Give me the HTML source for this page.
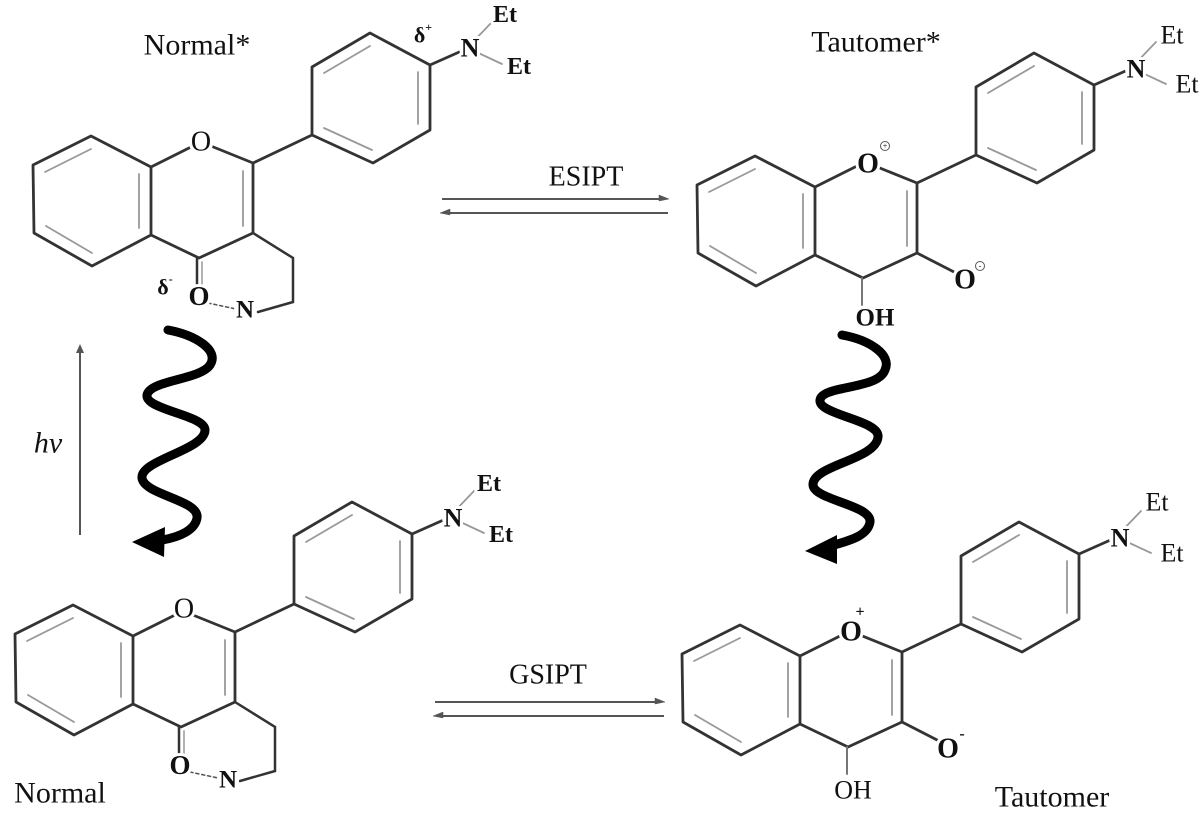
<!DOCTYPE html>
<html><head><meta charset="utf-8"><style>
html,body{margin:0;padding:0;background:#fff;}
svg{display:block;}
text{font-family:"Liberation Serif",serif;fill:#111;}
.lbl{paint-order:stroke;stroke:#fff;stroke-width:6px;stroke-linejoin:round;text-anchor:middle;dominant-baseline:central;}
.b{font-weight:bold;}
.m{fill:#fff;stroke:none;}
</style></head><body>
<svg width="1200" height="817" viewBox="0 0 1200 817" xmlns="http://www.w3.org/2000/svg">
<defs>
<g id="core" fill="none" stroke-linejoin="round" stroke-linecap="round">
  <polygon points="91,136 33,165 34,233 92,266 151,235 151,167" stroke="#333" stroke-width="2.8"/>
  <g stroke="#999" stroke-width="1.8">
    <line x1="91" y1="149" x2="45" y2="172"/>
    <line x1="46" y1="226" x2="92" y2="253"/>
    <line x1="139" y1="174" x2="139" y2="228"/>
    <line x1="243" y1="171" x2="243" y2="226"/>
    <line x1="324" y1="73" x2="370" y2="46"/>
    <line x1="418" y1="72" x2="418" y2="124"/>
    <line x1="372" y1="150" x2="324" y2="128"/>
  </g>
  <polyline points="151,167 201,142 253,163 253,233 199,258 151,235" stroke="#333" stroke-width="2.8"/>
  <line x1="253" y1="163" x2="312" y2="135" stroke="#333" stroke-width="2.8"/>
  <polygon points="312,135 312,67 370,33 430,65 430,130 373,163" stroke="#333" stroke-width="2.8"/>
  <line x1="430" y1="65" x2="466" y2="49" stroke="#333" stroke-width="2.8"/>
  <line x1="470" y1="45" x2="492" y2="22" stroke="#999" stroke-width="1.8"/>
  <line x1="472" y1="50" x2="502" y2="64" stroke="#999" stroke-width="1.8"/>
</g>
<g id="normal" fill="none" stroke-linecap="round">
  <line x1="197" y1="258" x2="197" y2="290" stroke="#333" stroke-width="2.5"/>
  <line x1="202" y1="262" x2="202" y2="290" stroke="#aaa" stroke-width="1.8"/>
  <polyline points="253,233 293,258 293,302 258,312" stroke="#333" stroke-width="2.5"/>
  <line x1="208" y1="303" x2="236" y2="309" stroke="#555" stroke-width="1.6" stroke-dasharray="3,3"/>
</g>
<g id="taut" fill="none" stroke-linecap="round">
  <line x1="253" y1="233" x2="292" y2="253" stroke="#333" stroke-width="2.8"/>
  <line x1="198" y1="258" x2="198" y2="285" stroke="#777" stroke-width="2"/>
</g>
</defs>

<!-- Normal* top-left -->
<use href="#core"/>
<use href="#normal"/>
<circle class="m" cx="201" cy="143" r="12"/>
<circle class="m" cx="199" cy="297" r="12"/>
<circle class="m" cx="245" cy="310" r="11"/>
<circle class="m" cx="470" cy="48" r="11"/>
<text x="197" y="45" class="lbl" font-size="30">Normal*</text>
<text x="201" y="142" class="lbl" font-size="28">O</text>
<text x="199" y="296" class="lbl b" font-size="27">O</text>
<text x="245" y="310" class="lbl b" font-size="25">N</text>
<text x="470" y="48" class="lbl b" font-size="26">N</text>
<text x="505" y="15" class="lbl b" font-size="24">Et</text>
<text x="519" y="67" class="lbl b" font-size="24">Et</text>
<text x="423" y="35" class="lbl b" font-size="22">δ<tspan font-size="12" dy="-8">+</tspan></text>
<text x="165" y="287" class="lbl b" font-size="22">δ<tspan font-size="12" dy="-8">-</tspan></text>

<!-- Normal bottom-left -->
<g transform="translate(-18,469)">
<use href="#core"/>
<use href="#normal"/>
</g>
<circle class="m" cx="184" cy="609" r="12"/>
<circle class="m" cx="180" cy="766" r="12"/>
<circle class="m" cx="228" cy="780" r="11"/>
<circle class="m" cx="453" cy="518" r="11"/>
<text x="184" y="609" class="lbl" font-size="28">O</text>
<text x="180" y="765" class="lbl b" font-size="27">O</text>
<text x="228" y="780" class="lbl b" font-size="25">N</text>
<text x="453" y="518" class="lbl b" font-size="26">N</text>
<text x="489" y="484" class="lbl b" font-size="24">Et</text>
<text x="501" y="535" class="lbl b" font-size="24">Et</text>
<text x="60" y="793" class="lbl" font-size="30">Normal</text>

<!-- Tautomer* top-right -->
<g transform="translate(664,20)">
<use href="#core"/>
<use href="#taut"/>
</g>
<circle class="m" cx="868" cy="164" r="12"/>
<circle class="m" cx="965" cy="280" r="12"/>
<circle class="m" cx="1136" cy="69" r="11"/>
<text x="876" y="42" class="lbl" font-size="30">Tautomer*</text>
<text x="868" y="164" class="lbl b" font-size="28">O</text>
<circle cx="885" cy="146" r="4.5" fill="#fff" stroke="#555" stroke-width="1"/>
<text x="885" y="146" font-size="8" text-anchor="middle" dominant-baseline="central">+</text>
<text x="965" y="280" class="lbl b" font-size="28">O</text>
<circle cx="980" cy="266" r="4.5" fill="#fff" stroke="#555" stroke-width="1"/>
<text x="980" y="266" font-size="8" text-anchor="middle" dominant-baseline="central">-</text>
<text x="875" y="318" class="lbl b" font-size="25">OH</text>
<text x="1136" y="69" class="lbl b" font-size="26">N</text>
<text x="1172" y="35" class="lbl" font-size="26">Et</text>
<text x="1187" y="84" class="lbl" font-size="26">Et</text>

<!-- Tautomer bottom-right -->
<g transform="translate(649,489)">
<use href="#core"/>
<use href="#taut"/>
</g>
<circle class="m" cx="851" cy="632" r="12"/>
<circle class="m" cx="948" cy="749" r="12"/>
<circle class="m" cx="1120" cy="538" r="11"/>
<text x="851" y="632" class="lbl b" font-size="28">O</text>
<text x="860" y="612" font-size="16" font-weight="bold" text-anchor="middle" dominant-baseline="central">+</text>
<text x="948" y="749" class="lbl b" font-size="28">O</text>
<text x="962" y="734" font-size="16" font-weight="bold" text-anchor="middle" dominant-baseline="central">-</text>
<text x="853" y="790" class="lbl" font-size="26">OH</text>
<text x="1120" y="538" class="lbl b" font-size="26">N</text>
<text x="1157" y="502" class="lbl" font-size="26">Et</text>
<text x="1172" y="553" class="lbl" font-size="26">Et</text>
<text x="1052" y="797" class="lbl" font-size="30">Tautomer</text>

<!-- ESIPT arrows -->
<text x="586" y="177" class="lbl" font-size="28">ESIPT</text>
<g stroke="#555" stroke-width="2" fill="#555">
<line x1="442" y1="199" x2="664" y2="199"/>
<polygon points="669,199 659,195 659,201" stroke-width="0.5"/>
<line x1="446" y1="213" x2="668" y2="213"/>
<polygon points="440,213 450,209 450,215" stroke-width="0.5"/>
</g>
<!-- GSIPT arrows -->
<text x="548" y="675" class="lbl" font-size="28">GSIPT</text>
<g stroke="#555" stroke-width="2" fill="#555">
<line x1="435" y1="702" x2="660" y2="702"/>
<polygon points="665,702 655,698 655,704" stroke-width="0.5"/>
<line x1="439" y1="716" x2="664" y2="716"/>
<polygon points="433,716 443,712 443,718" stroke-width="0.5"/>
</g>

<!-- hv arrow -->
<line x1="80" y1="535" x2="80" y2="350" stroke="#555" stroke-width="2"/>
<polygon points="80,344 76,353 84,353" fill="#555"/>
<text x="48" y="443" font-size="30" font-style="italic" text-anchor="middle" dominant-baseline="central">hv</text>

<!-- squiggles -->
<g fill="none" stroke="#000" stroke-width="9" stroke-linecap="round" stroke-linejoin="round">
<path d="M168,330 C195,335 220,350 210,365 C200,380 150,380 147,395 C145,410 205,415 205,430 C205,450 140,460 142,478 C144,495 200,500 197,518 C195,530 180,537 162,540"/>
<path d="M842,335 C870,340 892,355 885,370 C878,390 822,385 820,400 C818,415 880,420 878,437 C876,460 812,465 813,485 C814,500 872,505 870,522 C868,535 852,540 834,545"/>
</g>
<polygon points="132,542 165,527 164,557" fill="#000"/>
<polygon points="805,551 837,535 837,564" fill="#000"/>
</svg>
</body></html>
